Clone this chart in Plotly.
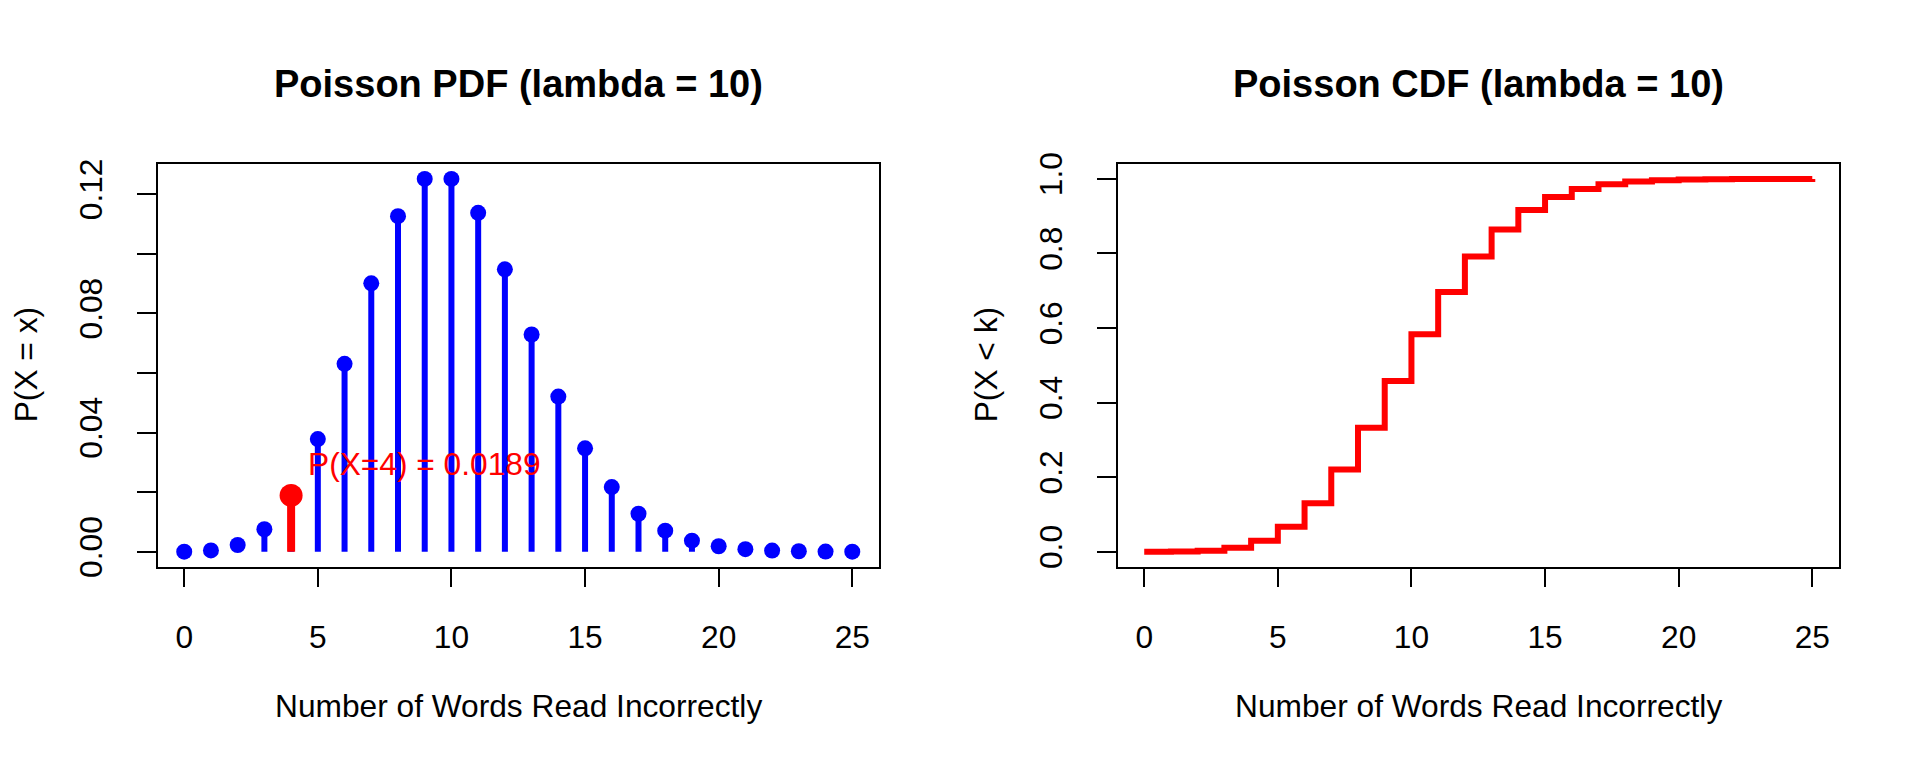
import plotly.graph_objects as go

# ---- data (Poisson, lambda = 10) ----
k_values = list(range(0, 26))
pdf_values = [0.0000454, 0.000454, 0.00227, 0.00757, 0.01892, 0.03783, 0.06306,
              0.09008, 0.11260, 0.12511, 0.12511, 0.11374, 0.09478, 0.07291,
              0.05208, 0.03472, 0.02170, 0.01276, 0.00709, 0.00373, 0.00187,
              0.00089, 0.00040, 0.00018, 0.00007, 0.00003]
cdf_values = [0.0000454, 0.000499, 0.002769, 0.010336, 0.029253, 0.067086,
              0.130141, 0.220221, 0.332820, 0.457930, 0.583040, 0.696776,
              0.791556, 0.864464, 0.916542, 0.951260, 0.972958, 0.985722,
              0.992813, 0.996546, 0.998412, 0.999300, 0.999704, 0.999880,
              0.999953, 0.999983]
highlight_k = 4
highlight_p = 0.0189
highlight_label = "P(X=4) = 0.0189"

x_ticks = [0, 5, 10, 15, 20, 25]
pdf_ytick_vals = [0.00, 0.02, 0.04, 0.06, 0.08, 0.10, 0.12]
pdf_ytick_text = ["0.00", "", "0.04", "", "0.08", "", "0.12"]
cdf_ytick_vals = [0.0, 0.2, 0.4, 0.6, 0.8, 1.0]
cdf_ytick_text = ["0.0", "0.2", "0.4", "0.6", "0.8", "1.0"]

title_pdf = "<b>Poisson PDF (lambda = 10)</b>"
title_cdf = "<b>Poisson CDF (lambda = 10)</b>"
x_title = "Number of Words Read Incorrectly"
y_title_pdf = "P(X = x)"
y_title_cdf = "P(X < k)"

# ---- styling ----
FONT = "Liberation Sans, Arial, Helvetica, sans-serif"
LBL = 31.7
TTL = 38
W, H = 1920, 768
BLUE = "#0000FF"
RED = "#FF0000"


def pad_range(vals):
    lo, hi = min(vals), max(vals)
    d = (hi - lo) * 0.04
    return [lo - d, hi + d]


fig = go.Figure()

# stems (type = "h")
sx, sy = [], []
for k, p in zip(k_values, pdf_values):
    sx += [k, k, None]
    sy += [0, p, None]
fig.add_trace(go.Scatter(x=sx, y=sy, mode="lines", xaxis="x", yaxis="y",
                         line=dict(color=BLUE, width=6), hoverinfo="skip"))
fig.add_trace(go.Scatter(x=k_values, y=pdf_values, mode="markers", xaxis="x", yaxis="y",
                         marker=dict(color=BLUE, size=16, line=dict(width=0))))
fig.add_trace(go.Scatter(x=[highlight_k, highlight_k, None], y=[0, highlight_p, None],
                         mode="lines", xaxis="x", yaxis="y",
                         line=dict(color=RED, width=8), hoverinfo="skip"))
fig.add_trace(go.Scatter(x=[highlight_k], y=[highlight_p], mode="markers", xaxis="x", yaxis="y",
                         marker=dict(color=RED, size=23, line=dict(width=0))))

# CDF step line (type = "s")
fig.add_trace(go.Scatter(x=k_values, y=cdf_values, mode="lines", xaxis="x2", yaxis="y2",
                         line=dict(color=RED, width=6, shape="hv")))

left_dom = [157.5 / W, 879 / W]
right_dom = [1117.5 / W, 1839 / W]
y_dom = [(H - 572) / H, (H - 157.5) / H]

axis_common = dict(showgrid=False, zeroline=False, showline=True, mirror=True,
                   linecolor="black", linewidth=1.6, ticks="outside", ticklen=19,
                   tickwidth=1.6, tickcolor="black",
                   tickfont=dict(family=FONT, size=LBL, color="black"))

fig.update_layout(
    width=W, height=H,
    margin=dict(l=0, r=0, t=0, b=0),
    paper_bgcolor="white", plot_bgcolor="white",
    showlegend=False,
    font=dict(family=FONT, color="black"),
    xaxis=dict(domain=left_dom, range=[-1, 26], tickvals=x_ticks, anchor="y",
               ticklabelstandoff=23, **axis_common),
    yaxis=dict(domain=y_dom, range=pad_range(pdf_values), tickvals=pdf_ytick_vals,
               ticktext=pdf_ytick_text, tickangle=-90, anchor="x",
               ticklabelstandoff=22, **axis_common),
    xaxis2=dict(domain=right_dom, range=[-1, 26], tickvals=x_ticks, anchor="y2",
                ticklabelstandoff=23, **axis_common),
    yaxis2=dict(domain=y_dom, range=pad_range(cdf_values), tickvals=cdf_ytick_vals,
                ticktext=cdf_ytick_text, tickangle=-90, anchor="x2",
                ticklabelstandoff=22, **axis_common),
)

cx_left = (left_dom[0] + left_dom[1]) / 2
cx_right = (right_dom[0] + right_dom[1]) / 2
cy = (y_dom[0] + y_dom[1]) / 2

ann = []
for cx, t in [(cx_left, title_pdf), (cx_right, title_cdf)]:
    ann.append(dict(xref="paper", yref="paper", x=cx, y=(H - 75) / H, text=t,
                    showarrow=False, xanchor="center", yanchor="middle",
                    font=dict(family=FONT, size=TTL, color="black")))
    ann.append(dict(xref="paper", yref="paper", x=cx, y=(H - 716) / H, text=x_title,
                    showarrow=False, xanchor="center", yanchor="middle",
                    font=dict(family=FONT, size=LBL, color="black")))
for xpx, t in [(26, y_title_pdf), (986, y_title_cdf)]:
    ann.append(dict(xref="paper", yref="paper", x=xpx / W, y=cy, text=t, textangle=-90,
                    showarrow=False, xanchor="center", yanchor="middle",
                    font=dict(family=FONT, size=LBL, color="black")))
ann.append(dict(xref="x", yref="y", x=highlight_k, y=0.0295, text=highlight_label,
                showarrow=False, xanchor="left", yanchor="middle", xshift=15,
                font=dict(family=FONT, size=LBL, color=RED)))
fig.update_layout(annotations=ann)

fig.write_html("out.html",
               config={"displayModeBar": False},
               post_script="document.body.style.margin='0';document.body.style.overflow='hidden';")
